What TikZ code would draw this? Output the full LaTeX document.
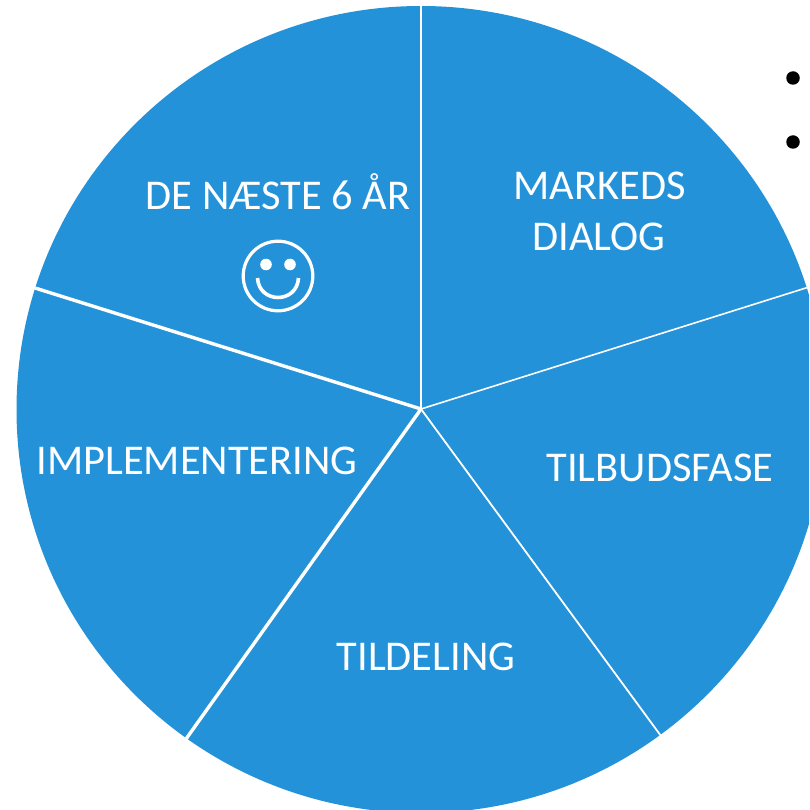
\documentclass[tikz,border=0pt]{standalone}
\usepackage{fontspec}
\setmainfont{Carlito}
\definecolor{pieblue}{HTML}{2492D9}
\tikzset{
  pielabel/.style={text=white,anchor=base,inner sep=0pt,font=\fontsize{42.4}{42.4}\selectfont},
  spoke/.style={draw=white},
  bulletdot/.style={circle,fill=black,inner sep=0pt,minimum size=13.5pt},
  smileline/.style={draw=white,line width=3.2pt},
}
\begin{document}
\begin{tikzpicture}[x=1pt,y=-1pt]
\useasboundingbox (0,0) rectangle (809,810);
\clip (0,0) rectangle (809,810);
\fill[pieblue] (421,409.5) ellipse[x radius=404.5pt,y radius=403.5pt];
\coordinate (c) at (421,409);
\coordinate (top) at (421,4);
\coordinate (ur) at (809,287);
\coordinate (ul) at (35,288);
\coordinate (ll) at (186,739);
\coordinate (lr) at (661,736);
\draw[spoke,line width=1.2pt] (c) -- (top);
\draw[spoke,line width=1.6pt] (c) -- (ur);
\draw[spoke,line width=3.4pt] (c) -- (ul);
\draw[spoke,line width=3.4pt] (c) -- (ll);
\draw[spoke,line width=1.8pt] (c) -- (lr);
\node[pielabel] (t1) at (599.5,200) {MARKEDS};
\node[pielabel] (t2) at (599,251) {DIALOG};
\node[pielabel] (t3) at (660,481) {TILBUDSFASE};
\node[pielabel] (t4) at (426,670) {TILDELING};
\node[pielabel] (t5) at (197,474) {IMPLEMENTERING};
\node[pielabel] (t6) at (278,210) {DE NÆSTE 6 ÅR};
\node[bulletdot] (b1) at (793,78) {};
\node[bulletdot] (b2) at (793,142) {};
\draw[smileline] (278,276) circle[radius=34.8pt];
\fill[white] (266,264.5) circle[radius=5.8pt];
\fill[white] (290,264.5) circle[radius=5.8pt];
\draw[smileline,line width=3.6pt] (257.5,278) .. controls (259,304) and (297,304) .. (298.5,278);
\end{tikzpicture}
\end{document}
